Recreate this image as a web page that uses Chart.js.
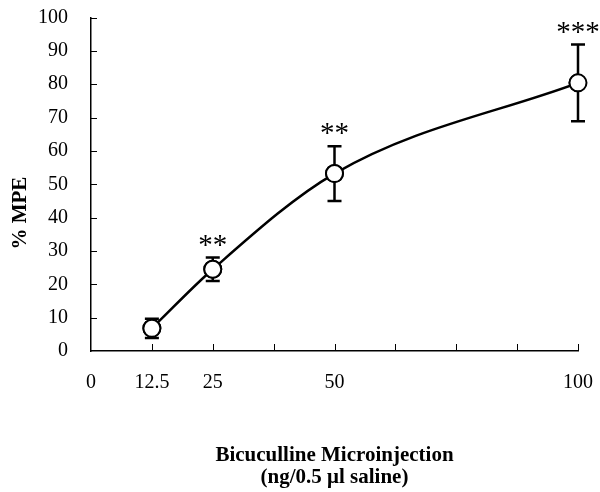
<!DOCTYPE html>
<html>
<head>
<meta charset="utf-8">
<script src="https://cdn.jsdelivr.net/npm/chart.js@4/dist/chart.umd.min.js"></script>
<style>
  html, body { margin: 0; padding: 0; background: #fff; }
  #wrap { width: 600px; height: 492px; }
</style>
</head>
<body>
<div id="wrap"><canvas id="mpeChart" width="600" height="492"></canvas></div>
<script>
// doses (ng) and % MPE
const doses = [12.5, 25, 50, 100];
const mpe = [6.8, 24.5, 53.2, 80.4];
const sem = [2.9, 3.5, 8.2, 11.5];
const stars = ['', '**', '**', '***'];
const xTickLabels = [0, 12.5, 25, 50, 100];

const serif = "'Liberation Serif', 'Times New Roman', serif";

// error bars, inside tick marks and significance stars
const extras = {
  id: 'extras',
  afterDatasetsDraw(chart) {
    const ctx = chart.ctx;
    const xs = chart.scales.x, ys = chart.scales.y;
    ctx.save();
    ctx.strokeStyle = '#000';
    ctx.lineWidth = 1;
    // tick marks point into the plot
    xs.ticks.forEach(t => {
      const px = Math.round(xs.getPixelForValue(t.value)) + 0.5;
      if (t.value === 0) return;
      ctx.beginPath();
      ctx.moveTo(px, ys.bottom);
      ctx.lineTo(px, ys.bottom - 7);
      ctx.stroke();
    });
    ys.ticks.forEach(t => {
      const py = Math.round(ys.getPixelForValue(t.value)) + 0.5;
      if (t.value === 0) return;
      ctx.beginPath();
      ctx.moveTo(xs.left, py);
      ctx.lineTo(xs.left + 6, py);
      ctx.stroke();
    });
    // error bars
    ctx.lineWidth = 2.5;
    doses.forEach((d, i) => {
      const px = xs.getPixelForValue(d);
      const top = ys.getPixelForValue(mpe[i] + sem[i]);
      const bot = ys.getPixelForValue(mpe[i] - sem[i]);
      ctx.beginPath();
      ctx.moveTo(px, top); ctx.lineTo(px, bot);
      ctx.moveTo(px - 7, top); ctx.lineTo(px + 7, top);
      ctx.moveTo(px - 7, bot); ctx.lineTo(px + 7, bot);
      ctx.stroke();
      if (stars[i]) {
        ctx.fillStyle = '#000';
        ctx.font = '29px ' + serif;
        ctx.textAlign = 'center';
        ctx.textBaseline = 'alphabetic';
        ctx.fillText(stars[i], px, top - 4);
      }
    });
    ctx.restore();
    // redraw markers on top of the bars
    const meta = chart.getDatasetMeta(0);
    meta.data.forEach(pt => pt.draw(ctx, chart.chartArea));
  }
};

new Chart(document.getElementById('mpeChart'), {
  type: 'line',
  data: {
    datasets: [{
      data: doses.map((d, i) => ({ x: d, y: mpe[i] })),
      borderColor: '#000',
      borderWidth: 2.5,
      cubicInterpolationMode: 'monotone',
      pointRadius: 8.5,
      pointBackgroundColor: '#fff',
      pointBorderColor: '#000',
      pointBorderWidth: 2,
      fill: false
    }]
  },
  options: {
    responsive: false,
    animation: false,
    layout: { padding: { top: 17.5, right: 22, bottom: 3, left: 5 } },
    plugins: { legend: { display: false }, tooltip: { enabled: false } },
    scales: {
      x: {
        type: 'linear',
        min: 0, max: 100,
        afterFit: s => { s.height = 138; s.paddingLeft = 0; s.paddingRight = 0; },
        grid: { display: false, drawTicks: false },
        border: { display: true, color: '#000', width: 1.5 },
        ticks: {
          stepSize: 12.5,
          padding: 20,
          color: '#000',
          maxRotation: 0,
          autoSkip: false,
          font: { family: serif, size: 20 },
          callback: v => xTickLabels.includes(v) ? String(v) : ''
        },
        title: {
          display: true,
          text: ['Bicuculline Microinjection', '(ng/0.5 \u03bcl saline)'],
          color: '#000',
          font: { family: serif, size: 21, weight: 'bold', lineHeight: 1.05 },
          padding: { top: 50, bottom: 0 }
        }
      },
      y: {
        min: 0, max: 100,
        afterFit: s => { s.width = 86; s.paddingTop = 0; s.paddingBottom = 0; },
        grid: { display: false, drawTicks: false },
        border: { display: true, color: '#000', width: 1.5 },
        ticks: {
          stepSize: 10,
          padding: 23,
          color: '#000',
          font: { family: serif, size: 20 }
        },
        title: {
          display: true,
          text: '% MPE' + '\u00a0'.repeat(11),
          color: '#000',
          font: { family: serif, size: 21, weight: 'bold' },
          padding: { top: 3, bottom: 5 }
        }
      }
    }
  },
  plugins: [extras]
});
</script>
</body>
</html>
